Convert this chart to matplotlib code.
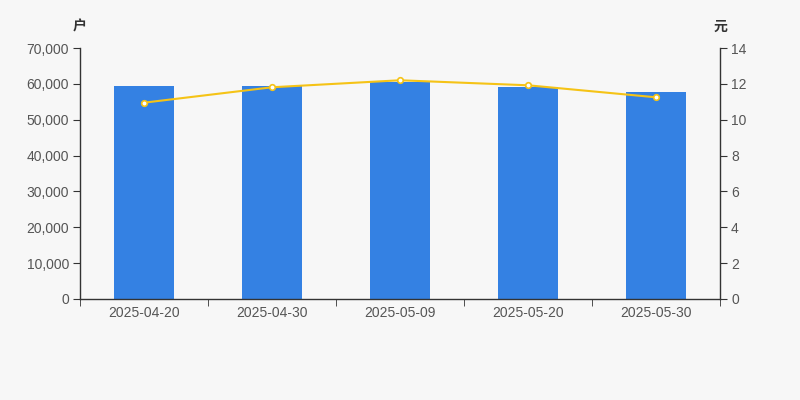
import numpy as np
import matplotlib.pyplot as plt
from matplotlib.ticker import FuncFormatter, FixedLocator

plt.rcParams['font.family'] = ['Liberation Sans', 'Noto Sans CJK SC', 'DejaVu Sans']

dates = ['2025-04-20', '2025-04-30', '2025-05-09', '2025-05-20', '2025-05-30']
holders = [59400, 59500, 60600, 59200, 57800]  # 户
prices = [10.95, 11.81, 12.20, 11.92, 11.25]  # 元

bg = '#f7f7f7'
axis_color = '#333333'
text_color = '#555555'


def main():
    fig = plt.figure(figsize=(8, 4), dpi=100, facecolor=bg)
    ax = fig.add_axes([0.1, 0.2525, 0.8, 0.6275], facecolor=bg)
    x = np.arange(len(dates))

    ax.bar(x, holders, width=0.47, color='#3481e3', zorder=2)
    ax.set_xlim(-0.5, len(dates) - 0.5)
    ax.set_ylim(0, 70000)
    ax.set_yticks(np.arange(0, 70001, 10000))
    ax.yaxis.set_major_formatter(FuncFormatter(lambda v, p: f'{int(v):,}'))

    ax.set_xticks(x)
    ax.set_xticklabels(dates)
    ax.xaxis.set_minor_locator(FixedLocator(np.arange(-0.5, len(dates), 1.0)))
    ax.tick_params(axis='x', which='major', length=0, pad=5,
                   labelsize=10, labelcolor=text_color)
    ax.tick_params(axis='x', which='minor', length=5, color=axis_color)
    ax.tick_params(axis='y', length=5, color=axis_color, pad=3,
                   labelsize=10, labelcolor=text_color)

    ax2 = ax.twinx()
    ax2.plot(x, prices, color='#f5c316', lw=1.5, marker='o', ms=4,
             mfc='white', mec='#f5c316', mew=1.2, zorder=3)
    ax2.set_ylim(0, 14)
    ax2.set_yticks(np.arange(0, 15, 2))
    ax2.tick_params(axis='y', length=5, color=axis_color, pad=3,
                    labelsize=10, labelcolor=text_color)

    for a in (ax, ax2):
        a.spines['top'].set_visible(False)
        for s in ('left', 'right', 'bottom'):
            a.spines[s].set_color(axis_color)
            a.spines[s].set_linewidth(1)
    ax.spines['right'].set_visible(False)
    ax2.spines['left'].set_visible(False)
    ax2.spines['bottom'].set_visible(False)

    fig.text(0.1, 0.9325, '户', ha='center', va='center',
             fontsize=10, color=axis_color, fontweight='bold')
    fig.text(0.9, 0.9325, '元', ha='center', va='center',
             fontsize=10, color=axis_color, fontweight='bold')

    fig.savefig('out.png', dpi=100, facecolor=bg)


if __name__ == '__main__':
    main()
